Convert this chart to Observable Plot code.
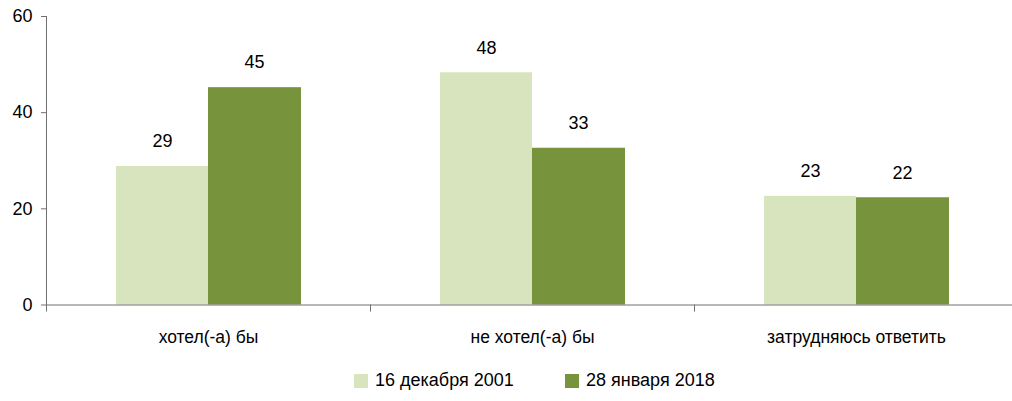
<!DOCTYPE html>
<html>
<head>
<meta charset="utf-8">
<script src="https://cdn.jsdelivr.net/npm/d3@7"></script>
<script src="https://cdn.jsdelivr.net/npm/@observablehq/plot@0.6"></script>
<style>
  html, body { margin: 0; padding: 0; background: #fff; overflow: hidden; }
  body { width: 1012px; height: 401px; font-family: "Liberation Sans", Arial, sans-serif; }
  #chart svg { display: block; overflow: hidden; }
  .legend { height: 41px; display: flex; align-items: center; font-size: 18px; color: #000; }
  .legend .item { display: flex; align-items: center; position: absolute; }
  .legend .sw { width: 14px; height: 14px; margin-right: 7px; }
</style>
</head>
<body>
<div id="chart"></div>
<div class="legend" id="legend"></div>
<script>
const categories = ["хотел(-а) бы", "не хотел(-а) бы", "затрудняюсь ответить"];
const seriesNames = ["16 декабря 2001", "28 января 2018"];
const values2001 = [28.8, 48.3, 22.6];
const values2018 = [45.2, 32.6, 22.3];
const labels2001 = [29, 48, 23];
const labels2018 = [45, 33, 22];
const yTicks = [0, 20, 40, 60];
const colors = ["#d7e4bd", "#77933c"];

const rows2001 = categories.map((c, i) => ({category: c, value: values2001[i], label: labels2001[i]}));
const rows2018 = categories.map((c, i) => ({category: c, value: values2018[i], label: labels2018[i]}));

const chart = Plot.plot({
  width: 1012,
  height: 360,
  marginTop: 16,
  marginBottom: 55.5,
  marginLeft: 46,
  marginRight: -6,
  style: {fontFamily: "'Liberation Sans', Arial, sans-serif", color: "#000"},
  x: {type: "band", domain: categories, padding: 0},
  y: {domain: [0, 60]},
  marks: [
    Plot.barY(rows2001, {x: "category", y: "value", fill: colors[0], insetLeft: 70, insetRight: 162}),
    Plot.barY(rows2018, {x: "category", y: "value", fill: colors[1], insetLeft: 162, insetRight: 69}),
    Plot.text(rows2001, {x: "category", y: "value", text: "label", dx: -46, dy: -25, fontSize: 18, fill: "#000"}),
    Plot.text(rows2018, {x: "category", y: "value", text: "label", dx: 46, dy: -25, fontSize: 18, fill: "#000"}),
    Plot.axisY({ticks: yTicks, tickSize: 5, tickPadding: 9, fontSize: 18, stroke: "#707070", fill: "#000", label: null}),
    Plot.frame({anchor: "left", stroke: "#707070"}),
    Plot.ruleY([0], {stroke: "#707070"}),
    Plot.axisX({tickSize: 7, dx: -162, text: null, stroke: "#707070", label: null}),
    Plot.axisX({tickSize: 0, tickPadding: 26, fontSize: 17.5, fill: "#000", label: null})
  ]
});
document.getElementById("chart").appendChild(chart);

const legend = document.getElementById("legend");
const legendX = [354, 565];
seriesNames.forEach((name, i) => {
  const item = document.createElement("div");
  item.className = "item";
  item.style.left = legendX[i] + "px";
  const sw = document.createElement("span");
  sw.className = "sw";
  sw.style.background = colors[i];
  const t = document.createElement("span");
  t.textContent = name;
  item.appendChild(sw);
  item.appendChild(t);
  legend.appendChild(item);
});
</script>
</body>
</html>
